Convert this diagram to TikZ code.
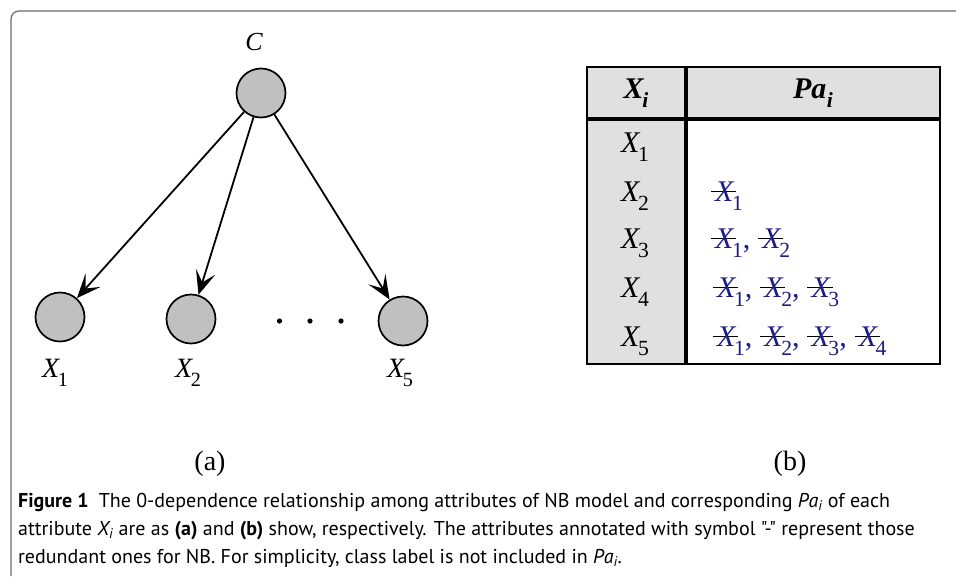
\documentclass[tikz,border=0pt]{standalone}
\usepackage{fontspec}
\usepackage{graphicx}
\setmainfont{Liberation Serif}
\newfontfamily\capfont{PT Sans}
\usetikzlibrary{arrows.meta}
\definecolor{nodegray}{HTML}{C0C0C0}
\definecolor{cellgray}{HTML}{E0E0E0}
\definecolor{pablue}{HTML}{1C1C84}
\definecolor{framegray}{HTML}{6A6A6A}
\newcommand\Xs[1]{\textit{X}\kern-0.08em\raisebox{-0.3em}{\scalebox{0.72}{#1}}}
\newcommand\Xbx[1]{\textbf{\textit{X}}\kern-0.06em\raisebox{-0.3em}{\scalebox{0.72}{\textbf{\textit{#1}}}}}
\newcommand\Xst[1]{\rlap{\hspace{-0.14em}\color{black}\rule[0.3em]{0.84em}{1.1pt}}\textit{X}\kern-0.08em\raisebox{-0.3em}{\scalebox{0.72}{#1}}}
\newcommand\cm{,\hspace{0.4em}}
\begin{document}
\begin{tikzpicture}[x=1pt,y=-1pt,
  gnode/.style={circle,draw=black,fill=nodegray,line width=1.7pt,minimum size=49pt,inner sep=0pt},
  glabel/.style={font=\fontsize{28}{28}\selectfont,inner sep=0pt},
  arr/.style={line width=1.8pt,-{Stealth[length=24pt,width=20pt,inset=11pt]}},
  tlabel/.style={font=\fontsize{30}{30}\selectfont,inner sep=0pt},
  palabel/.style={font=\fontsize{30}{30}\selectfont,inner sep=0pt,anchor=west,text=pablue},
  sublabel/.style={font=\fontsize{28}{28}\selectfont,inner sep=0pt},
  capline/.style={font=\capfont\fontsize{20}{20}\selectfont,inner sep=0pt,anchor=base west}]
\useasboundingbox (0,0) rectangle (956,576);
\fill[white] (0,0) rectangle (956,576);
\draw[framegray,line width=1.2pt,rounded corners=8pt] (11,576) -- (11,11) -- (956,11);

% graph (a)
\node[gnode] (C) at (261,93) {};
\node[glabel,font=\fontsize{26}{26}\selectfont\itshape] (Cl) at (254,42) {C};
\node[gnode] (X1) at (60,317) {};
\node[gnode] (X2) at (191,319) {};
\node[gnode] (X5) at (403,321) {};
\node[glabel] (X1l) at (55,373) {\Xs{1}};
\node[glabel] (X2l) at (188,373) {\Xs{2}};
\node[glabel] (X5l) at (400,373) {\Xs{5}};
\fill (279.5,321) circle (2.6pt) (310,321) circle (2.6pt) (341,321) circle (2.6pt);
\draw[arr] (C) -- (X1);
\draw[arr] (C) -- (X2);
\draw[arr] (C) -- (X5);

% table (b)
\fill[cellgray] (587,67) rectangle (940,119);
\fill[cellgray] (587,119) rectangle (686,364);
\draw[line width=1.8pt] (587,67) rectangle (940,364);
\draw[line width=3.6pt] (686,67) -- (686,364);
\draw[line width=3.6pt] (587,119) -- (940,119);
\node[tlabel] (hx) at (636,93) {\Xbx{i}};
\node[tlabel] (hp) at (813,93) {\textbf{\textit{Pa}}\kern0.02em\raisebox{-0.3em}{\scalebox{0.72}{\textbf{\textit{i}}}}};
\node[tlabel] (r1) at (635,147) {\Xs{1}};
\node[tlabel] (r2) at (635,196) {\Xs{2}};
\node[tlabel] (r3) at (635,243) {\Xs{3}};
\node[tlabel] (r4) at (635,292) {\Xs{4}};
\node[tlabel] (r5) at (635,341) {\Xs{5}};
\node[palabel] (p2) at (715,196) {\Xst{1}};
\node[palabel] (p3) at (715,243) {\Xst{1}\cm\Xst{2}};
\node[palabel] (p4) at (717,292) {\Xst{1}\cm\Xst{2}\cm\Xst{3}};
\node[palabel] (p5) at (717,341) {\Xst{1}\cm\Xst{2}\cm\Xst{3}\cm\Xst{4}};

% sub labels
\node[sublabel] (la) at (210,464) {(a)};
\node[sublabel] (lb) at (790,464) {(b)};

% caption
\node[capline] (c1) at (18,507) {\textbf{Figure 1}\hspace{0.5em}The 0-dependence relationship among attributes of NB model and corresponding \textit{Pa\textsubscript{i}} of each};
\node[capline] (c2) at (18,535) {attribute \textit{X\textsubscript{i}} are as \textbf{(a)} and \textbf{(b)} show, respectively. The attributes annotated with symbol "-" represent those};
\node[capline] (c3) at (18,563) {redundant ones for NB. For simplicity, class label is not included in \textit{Pa\textsubscript{i}}.};
\end{tikzpicture}
\end{document}
